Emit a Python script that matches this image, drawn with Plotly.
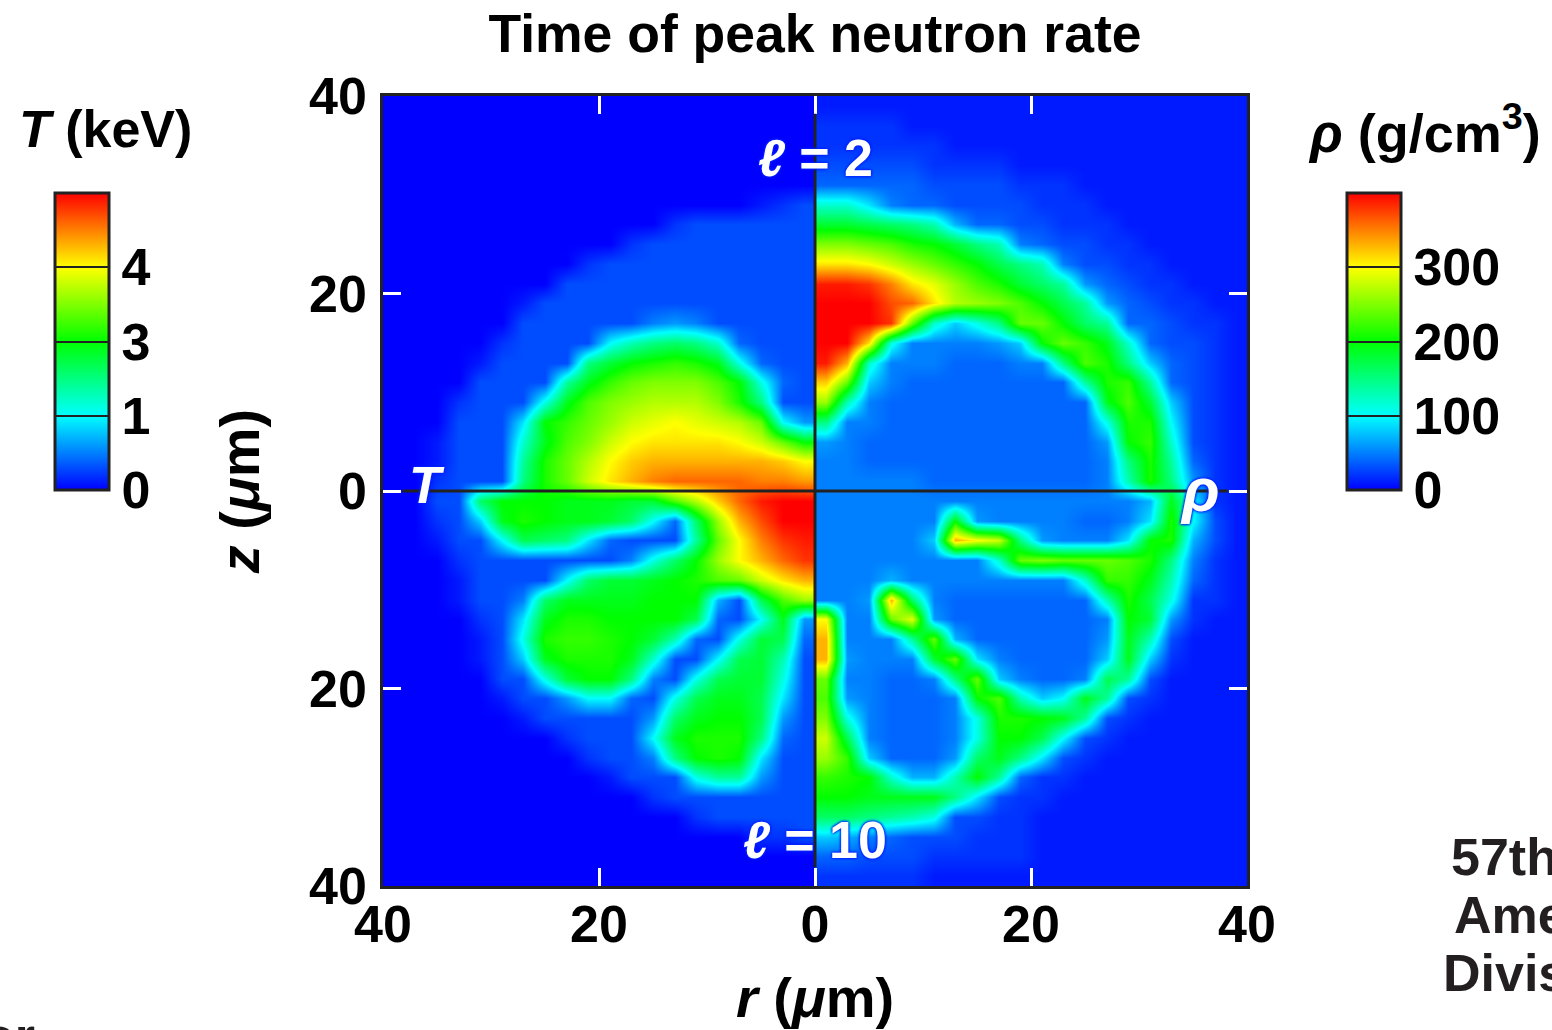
import plotly.graph_objects as go

# Grid centres in micrometres
r_left = [-39,-37,-35,-33,-31,-29,-27,-25,-23,-21,-19,-17,-15,-13,-11,-9,-7,-5,-3,-1]
r_right = [1,3,5,7,9,11,13,15,17,19,21,23,25,27,29,31,33,35,37,39]
z_rows = [39,37,35,33,31,29,27,25,23,21,19,17,15,13,11,9,7,5,3,1,
          -1,-3,-5,-7,-9,-11,-13,-15,-17,-19,-21,-23,-25,-27,-29,-31,-33,-35,-37,-39]

# Temperature in colour-bar levels (10 = first tick, 40 = top of bar), left half, r = -39..-1
T_upper = [
[0,0,0,0,0,0,0,0,0,0,0,0,0,0,0,0,0,0,0,0],
[0,0,0,0,0,0,0,0,0,0,0,0,0,0,0,0,0,0,0,0],
[0,0,0,0,0,0,0,0,0,0,0,0,0,0,0,0,0,0,0,0],
[0,0,0,0,0,0,0,0,0,0,0,0,0,0,0,0,0,0,0,0],
[0,0,0,0,0,0,0,0,0,0,0,0,0,0,0,0,0,0,0,0],
[0,0,0,0,0,0,0,0,0,0,0,0,0,0,0,0,0,1,2,3],
[0,0,0,0,0,0,0,0,0,0,0,0,0,2,3,3,3,3,3,3],
[0,0,0,0,0,0,0,0,0,0,0,2,3,3,3,3,3,3,3,3],
[0,0,0,0,0,0,0,0,0,2,3,3,3,3,3,3,3,3,3,3],
[0,0,0,0,0,0,0,0,3,3,3,3,3,3,3,3,3,3,3,3],
[0,0,0,0,0,0,1,3,3,3,3,3,3,3,3,3,3,3,3,3],
[0,0,0,0,0,0,3,3,3,3,3,3,5,6,5,3,3,3,3,3],
[0,0,0,0,0,2,3,3,3,3,10,13,15,16,15,12,4,3,3,3],
[0,0,0,0,1,3,3,3,3,15,18,20,21,22,21,19,11,4,3,3],
[0,0,0,0,3,3,3,3,14,19,22,24,25,25,25,23,20,11,4,3],
[0,0,0,2,3,3,3,11,19,23,25,26,27,27,27,25,21,15,3,3],
[0,0,0,3,3,3,9,20,22,24,26,28,29,30,29,28,27,24,10,6],
[0,0,1,3,3,3,12,19,23,25,28,30,31,31,31,31,30,28,24,20],
[0,0,1,3,3,3,14,21,24,27,30,32,33,33,33,33,33,33,32,30],
[0,0,2,3,3,3,15,21,24,28,31,33,35,36,36,36,36,35,35,34],
]
T_lower = [
[0,0,3,3,16,20,20,20,19,19,19,18,18,23,27,32,36,39,40,40],
[0,0,2,3,8,19,21,20,19,19,18,16,10,4,16,26,33,37,40,40],
[0,0,1,3,3,10,17,16,15,9,4,3,3,3,14,24,30,35,38,39],
[0,0,0,2,3,3,3,3,3,3,3,5,11,16,20,26,30,33,36,38],
[0,0,0,1,3,3,3,3,10,16,18,18,19,20,21,23,24,28,31,33],
[0,0,0,1,3,3,5,16,19,19,19,19,20,20,20,7,3,17,23,26],
[0,0,0,0,2,3,9,19,21,21,20,20,20,20,17,4,3,10,19,6],
[0,0,0,0,1,3,11,21,22,22,21,20,18,13,4,3,11,18,17,4],
[0,0,0,0,1,3,8,19,21,21,21,19,12,3,3,10,17,18,13,3],
[0,0,0,0,0,3,3,11,18,20,20,15,5,3,11,17,18,18,11,3],
[0,0,0,0,0,1,3,3,6,10,10,4,3,11,17,19,19,17,9,3],
[0,0,0,0,0,0,1,3,3,3,3,3,6,16,19,20,20,17,6,3],
[0,0,0,0,0,0,0,0,2,3,3,3,10,19,21,21,21,15,4,3],
[0,0,0,0,0,0,0,0,0,2,3,3,5,15,20,21,20,9,3,3],
[0,0,0,0,0,0,0,0,0,0,1,3,3,3,11,14,14,6,3,3],
[0,0,0,0,0,0,0,0,0,0,0,0,2,3,3,3,3,3,3,3],
[0,0,0,0,0,0,0,0,0,0,0,0,0,0,2,3,3,3,3,3],
[0,0,0,0,0,0,0,0,0,0,0,0,0,0,0,0,0,2,2,3],
[0,0,0,0,0,0,0,0,0,0,0,0,0,0,0,0,0,0,0,0],
[0,0,0,0,0,0,0,0,0,0,0,0,0,0,0,0,0,0,0,0],
]

# Density in units of 10 g/cm3, right half, r = 1..39
rho_upper = [
[1,1,1,1,1,1,1,1,1,1,1,1,1,1,1,1,1,1,1,1],
[2,2,2,2,1,1,1,1,1,1,1,1,1,1,1,1,1,1,1,1],
[2,2,2,2,2,2,1,1,1,1,1,1,1,1,1,1,1,1,1,1],
[3,3,3,3,3,2,2,2,2,1,1,1,1,1,1,1,1,1,1,1],
[4,4,4,4,4,3,3,3,3,2,2,2,1,1,1,1,1,1,1,1],
[12,12,9,5,4,4,3,3,3,3,2,2,2,1,1,1,1,1,1,1],
[18,18,17,16,15,13,7,4,4,3,3,2,2,2,1,1,1,1,1,1],
[25,25,24,23,21,20,18,15,13,5,4,3,3,2,2,1,1,1,1,1],
[31,31,30,28,26,24,22,20,17,15,13,5,3,3,2,2,1,1,1,1],
[39,39,38,35,31,29,26,23,21,18,16,14,6,4,3,2,2,1,1,1],
[40,40,40,37,36,31,27,26,25,23,20,17,14,6,4,3,2,2,1,1],
[40,40,40,38,24,12,8,11,15,24,24,20,16,14,4,4,3,2,2,1],
[40,40,31,11,5,5,5,5,6,8,20,24,22,19,12,4,3,3,2,1],
[39,33,12,5,5,5,4,4,4,5,5,15,23,21,15,8,4,3,2,1],
[32,24,8,5,4,4,4,4,4,4,4,4,14,21,22,14,4,3,2,1],
[26,13,5,4,4,4,4,4,4,4,4,4,4,19,23,18,8,3,2,1],
[15,5,5,4,4,4,4,4,4,4,4,4,4,11,21,21,10,3,2,1],
[6,5,4,4,4,4,4,4,4,4,4,4,4,6,20,22,12,3,2,1],
[5,5,4,4,4,4,4,4,4,4,4,4,4,5,15,21,14,4,2,1],
[5,5,5,5,5,4,4,4,4,4,4,4,4,5,13,21,15,6,2,1],
]
rho_lower = [
[5,5,5,5,5,5,5,5,5,5,5,5,5,5,5,7,19,10,2,1],
[5,5,5,5,5,5,20,6,5,5,5,5,4,4,5,9,21,10,3,1],
[5,5,5,5,5,8,33,30,28,15,6,5,5,5,9,20,21,7,3,1],
[5,5,5,5,5,5,5,5,12,24,25,24,24,24,23,21,15,5,2,1],
[5,5,5,7,5,5,5,5,5,5,5,5,12,22,22,19,13,4,2,1],
[5,5,6,33,16,5,4,4,4,4,4,4,4,13,21,17,11,2,2,1],
[30,5,5,24,29,6,4,4,4,4,4,4,4,5,20,18,6,2,1,1],
[33,5,5,5,14,24,7,4,4,4,4,4,4,6,19,13,3,1,1,1],
[33,6,5,5,5,18,24,9,5,4,4,4,4,8,19,8,2,1,1,1],
[24,5,5,4,4,5,15,24,8,5,4,4,5,17,14,3,1,1,1,1],
[23,6,5,4,4,4,5,20,23,13,8,10,19,14,3,2,1,1,1,1],
[25,11,5,4,4,4,5,11,21,21,20,19,14,3,2,1,1,1,1,1],
[28,17,5,4,4,4,5,11,20,20,17,10,3,2,1,1,1,1,1,1],
[26,22,8,4,4,4,6,16,19,15,9,3,2,1,1,1,1,1,1,1],
[22,21,20,12,7,7,13,20,14,4,2,2,1,1,1,1,1,1,1,1],
[20,20,19,19,19,19,15,9,3,2,2,1,1,1,1,1,1,1,1,1],
[16,16,15,14,13,11,3,3,2,2,1,1,1,1,1,1,1,1,1,1],
[8,7,5,4,3,3,3,2,2,2,1,1,1,1,1,1,1,1,1,1],
[4,4,3,3,3,2,2,2,2,2,1,1,1,1,1,1,1,1,1,1],
[2,2,2,2,2,1,1,1,1,1,1,1,1,1,1,1,1,1,1,1],
]

T_ticks = [0,10,20,30]
T_tick_labels = ["0","1","3","4"]
rho_ticks = [0,10,20,30]
rho_tick_labels = ["0","100","200","300"]
axis_ticks = [-40,-20,0,20,40]
axis_tick_labels = ["40","20","0","20","40"]

INK = "#222222"
FONT = "Liberation Sans"
colors = [[0,"#0000ff"],[0.25,"#00ffff"],[0.5,"#00ff00"],[0.75,"#ffff00"],[1,"#ff0000"]]

def px_x(p): return (p-383)/864
def px_y(p): return (886-p)/790

def colorbar(x_px, ticks, labels):
    return dict(x=px_x(x_px), xanchor="left", xpad=0, y=px_y(490), yanchor="bottom", ypad=0,
                len=297, lenmode="pixels", thickness=54, thicknessmode="pixels",
                outlinecolor=INK, outlinewidth=3, borderwidth=0,
                ticks="inside", ticklen=54, tickwidth=2, tickcolor=INK,
                tickmode="array", tickvals=ticks, ticktext=labels,
                tickfont=dict(family=FONT, size=52, color="black", weight="bold"))

fig = go.Figure()
fig.add_trace(go.Heatmap(x=r_left, y=z_rows, z=T_upper+T_lower, zmin=0, zmax=40, zsmooth="best",
                         colorscale=colors, colorbar=colorbar(55, T_ticks, T_tick_labels), name="T"))
fig.add_trace(go.Heatmap(x=r_right, y=z_rows, z=rho_upper+rho_lower, zmin=0, zmax=40, zsmooth="best",
                         colorscale=colors, colorbar=colorbar(1347, rho_ticks, rho_tick_labels), name="rho"))

def note(text, x, y, size=52, color="black", anchor="center", **font):
    return dict(text=text, x=x, y=y, xref="paper", yref="paper",
                showarrow=False, xanchor=anchor, yanchor="middle",
                font=dict(family=FONT, size=size, color=color, **font))

halo = "0 0 3px #0020ff, 0 0 3px #0020ff, 0 0 3px #0020ff"
annotations = [
    note("<b><i>T</i> (keV)</b>", px_x(105), px_y(129)),
    note("<b><i>ρ</i> (g/cm<sup>3</sup>)</b>", px_x(1424), px_y(129), size=54),
    note("<b>57th</b>", px_x(1449), px_y(857), color="#231f20", anchor="left"),
    note("<b>Ame</b>", px_x(1452), px_y(915), color="#231f20", anchor="left"),
    note("<b>Divis</b>", px_x(1441), px_y(973), color="#231f20", anchor="left"),
    note("<b>or</b>", px_x(-19), px_y(1036), color="#231f20", anchor="left"),
    note("<b><i>ℓ</i> = 2</b>", 0.5, px_y(158), color="white", shadow=halo),
    note("<b><i>ℓ</i> = 10</b>", 0.5, px_y(840), color="white", shadow=halo),
    note("<b><i>T</i></b>", px_x(427), px_y(485), color="white", shadow=halo),
    note("<b><i>ρ</i></b>", px_x(1200), px_y(489), size=62, color="white", shadow=halo),
]

axis_common = dict(range=[-40,40], tickmode="array", tickvals=axis_ticks, ticktext=axis_tick_labels,
                   ticks="inside", ticklen=18, tickwidth=2.5, tickcolor="white", showgrid=False, zeroline=False,
                   showline=True, linecolor=INK, linewidth=2.5, mirror="ticks",
                   tickfont=dict(family=FONT, size=52, color="black", weight="bold"),
                   layer="above traces")

fig.update_layout(
    width=1552, height=1030, margin=dict(l=383, r=305, t=96, b=144, autoexpand=False),
    paper_bgcolor="white", plot_bgcolor="#0000ff", showlegend=False,
    title=dict(text="<b>Time of peak neutron rate</b>", x=815/1552, xanchor="center", y=0.968, yanchor="middle",
               font=dict(family=FONT, size=53.5, color="black")),
    xaxis=dict(**axis_common, ticklabelstandoff=-9, title=dict(text="<b><i>r</i> (<i>μ</i>m)</b>", standoff=26,
               font=dict(family=FONT, size=56, color="black"))),
    yaxis=dict(**axis_common, ticklabelstandoff=3, title=dict(text="<b><i>z</i> (<i>μ</i>m)</b>", standoff=32,
               font=dict(family=FONT, size=56, color="black"))),
    annotations=annotations,
    shapes=[dict(type="line", xref="x", yref="y", x0=0, x1=0, y0=-38.1, y1=38.2, line=dict(color=INK, width=3)),
            dict(type="line", xref="x", yref="y", x0=-38.2, x1=38.2, y0=0, y1=0, line=dict(color=INK, width=3))],
)
fig.write_html("out.html", post_script="document.body.style.margin='0';", config={"displayModeBar": False})
